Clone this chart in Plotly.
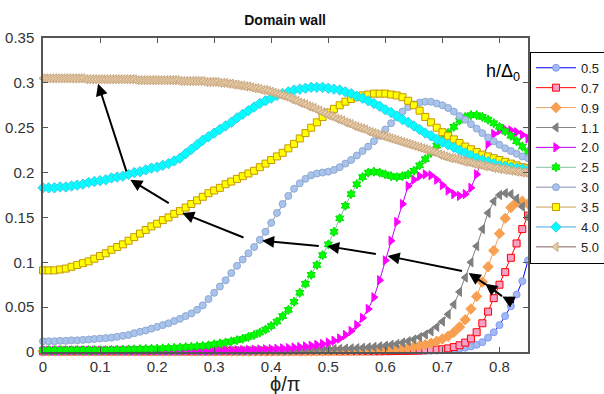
import plotly.graph_objects as go

# x grids (phi/pi)
phi = [round(i * 0.01, 2) for i in range(86)]
phi_fine = [round(i * 0.005, 3) for i in range(171)]

labels = ["0.5", "0.7", "0.9", "1.1", "2.0", "2.5", "3.0", "3.5", "4.0", "5.0"]

h05 = ([0.0005] * 50 +
       [0.0005, 0.0005, 0.0005, 0.0005, 0.0005, 0.0006, 0.0006, 0.0006, 0.0007, 0.0007,
        0.0008, 0.0008, 0.0009, 0.001, 0.001, 0.0011, 0.0012, 0.0013, 0.0014, 0.0016,
        0.0018, 0.0022, 0.0028, 0.0036, 0.0048, 0.0062, 0.008, 0.011, 0.016, 0.022,
        0.030, 0.040, 0.051, 0.064, 0.079, 0.102])

h07 = ([0.0008] * 60 +
       [0.0009, 0.001, 0.0011, 0.0012, 0.0013, 0.0015, 0.0017, 0.002, 0.0023, 0.0026,
        0.003, 0.004, 0.0055, 0.0075, 0.0105, 0.015, 0.022, 0.032, 0.045, 0.06,
        0.075, 0.089, 0.105, 0.121, 0.137, 0.152])

h09 = ([0.001] * 50 +
       [0.0012, 0.0013, 0.0014, 0.0015, 0.0016, 0.0018, 0.002, 0.0022, 0.0025, 0.0028,
        0.0031, 0.0035, 0.004, 0.0045, 0.0052, 0.006, 0.007, 0.0082, 0.0098, 0.012,
        0.0145, 0.0175, 0.022, 0.028, 0.036, 0.048, 0.062, 0.078, 0.095, 0.113,
        0.132, 0.149, 0.161, 0.167, 0.168, 0.165])

h11 = ([0.0012] * 40 +
       [0.0013, 0.0014, 0.0015, 0.0016, 0.0017, 0.0019, 0.0021, 0.0023, 0.0025, 0.0028,
        0.003, 0.0032, 0.0034, 0.0037, 0.004, 0.0043, 0.0047, 0.0052, 0.0057, 0.0063,
        0.007, 0.008, 0.009, 0.0105, 0.012, 0.014, 0.0165, 0.0195, 0.023, 0.028,
        0.034, 0.042, 0.053, 0.067, 0.083, 0.1, 0.118, 0.137, 0.155, 0.168,
        0.175, 0.177, 0.176, 0.171, 0.162, 0.15])

h20 = ([0.0015] * 30 +
       [0.0016, 0.0017, 0.0018, 0.0019, 0.002, 0.0022, 0.0024, 0.0026, 0.0028, 0.003,
        0.0033, 0.0036, 0.004, 0.0044, 0.0049, 0.0055, 0.0062, 0.007, 0.0079, 0.009,
        0.0105, 0.0125, 0.015, 0.019, 0.0235, 0.03, 0.038, 0.048, 0.061, 0.08,
        0.102, 0.124, 0.145, 0.165, 0.185, 0.192, 0.196, 0.198, 0.197, 0.192,
        0.186, 0.18, 0.176, 0.174, 0.176, 0.183, 0.198, 0.215, 0.232, 0.243,
        0.247, 0.248, 0.247, 0.245, 0.242, 0.238])

h25 = [0.002, 0.002, 0.002, 0.002, 0.002, 0.002, 0.002, 0.002, 0.002, 0.002,
       0.002, 0.002, 0.0022, 0.0024, 0.0026, 0.0028, 0.003, 0.0032, 0.0034, 0.0036,
       0.0038, 0.004, 0.0043, 0.0046, 0.005, 0.0054, 0.0058, 0.0063, 0.0068, 0.0074,
       0.0085, 0.0095, 0.0106, 0.0118, 0.0132, 0.0148, 0.0168, 0.019, 0.0217, 0.025,
       0.029, 0.034, 0.04, 0.047, 0.056, 0.066, 0.076, 0.086, 0.097, 0.108,
       0.12, 0.134, 0.149, 0.163, 0.176, 0.187, 0.195, 0.2, 0.201, 0.2,
       0.198, 0.196, 0.195, 0.196, 0.198, 0.202, 0.208, 0.215, 0.222, 0.23,
       0.237, 0.244, 0.251, 0.258, 0.262, 0.264, 0.264, 0.262, 0.259, 0.255,
       0.251, 0.246, 0.241, 0.235, 0.229, 0.223]

h30 = [0.012, 0.012, 0.012, 0.0125, 0.0125, 0.013, 0.013, 0.0135, 0.014, 0.0145,
       0.015, 0.0155, 0.016, 0.017, 0.018, 0.019, 0.021, 0.0225, 0.024, 0.026,
       0.028, 0.030, 0.032, 0.0345, 0.037, 0.040, 0.043, 0.047, 0.052, 0.059,
       0.066, 0.073, 0.080, 0.088, 0.096, 0.103, 0.110, 0.117, 0.125, 0.134,
       0.144, 0.155, 0.165, 0.174, 0.182, 0.188, 0.193, 0.197, 0.199, 0.200,
       0.201, 0.203, 0.206, 0.210, 0.214, 0.219, 0.224, 0.229, 0.235, 0.241,
       0.248, 0.255, 0.262, 0.268, 0.273, 0.276, 0.278, 0.279, 0.279, 0.277,
       0.275, 0.272, 0.268, 0.263, 0.259, 0.254, 0.249, 0.244, 0.239, 0.235,
       0.231, 0.227, 0.224, 0.221, 0.218, 0.216]

h35 = [0.091, 0.091, 0.091, 0.092, 0.093, 0.095, 0.097, 0.099, 0.101, 0.104,
       0.107, 0.110, 0.114, 0.117, 0.120, 0.124, 0.128, 0.132, 0.136, 0.140,
       0.143, 0.147, 0.150, 0.154, 0.157, 0.161, 0.165, 0.169, 0.173, 0.177,
       0.180, 0.183, 0.187, 0.190, 0.193, 0.196, 0.199, 0.202, 0.206, 0.210,
       0.214, 0.218, 0.222, 0.227, 0.232, 0.238, 0.244, 0.250, 0.256, 0.262,
       0.267, 0.271, 0.275, 0.279, 0.282, 0.284, 0.286, 0.287, 0.288, 0.288,
       0.288, 0.287, 0.286, 0.284, 0.280, 0.275, 0.269, 0.262, 0.256, 0.250,
       0.245, 0.241, 0.237, 0.233, 0.229, 0.226, 0.223, 0.220, 0.218, 0.216,
       0.214, 0.212, 0.210, 0.208, 0.206, 0.205]

h40 = [0.183, 0.183, 0.183, 0.184, 0.184, 0.185, 0.186, 0.187, 0.189, 0.190,
       0.191, 0.192, 0.194, 0.195, 0.196, 0.198, 0.200, 0.201, 0.203, 0.205,
       0.206, 0.208, 0.210, 0.213, 0.216, 0.221, 0.226, 0.231, 0.236, 0.240,
       0.244, 0.248, 0.252, 0.256, 0.261, 0.265, 0.269, 0.273, 0.277, 0.280,
       0.283, 0.286, 0.288, 0.290, 0.292, 0.293, 0.294, 0.295, 0.295, 0.295,
       0.294, 0.293, 0.292, 0.290, 0.288, 0.285, 0.283, 0.280, 0.277, 0.274,
       0.270, 0.267, 0.263, 0.259, 0.256, 0.252, 0.248, 0.244, 0.241, 0.237,
       0.234, 0.231, 0.228, 0.225, 0.222, 0.219, 0.216, 0.214, 0.212, 0.210,
       0.208, 0.207, 0.206, 0.205, 0.204, 0.203]

h50 = [0.305, 0.305, 0.305, 0.305, 0.305, 0.305, 0.305, 0.305, 0.305, 0.305,
       0.305, 0.305, 0.305, 0.305, 0.305, 0.304, 0.304, 0.304, 0.304, 0.304, 0.304,
       0.304, 0.304, 0.304, 0.304, 0.304, 0.304, 0.304, 0.304, 0.304, 0.304,
       0.304, 0.304, 0.303, 0.303, 0.303, 0.303, 0.303, 0.303, 0.303, 0.303,
       0.303, 0.303, 0.303, 0.303, 0.303, 0.303, 0.303, 0.302, 0.302, 0.302,
       0.302, 0.302, 0.302, 0.302, 0.302, 0.302, 0.301, 0.301, 0.301, 0.301,
       0.301, 0.300, 0.300, 0.300, 0.299, 0.299, 0.298, 0.298, 0.297, 0.297,
       0.296, 0.296, 0.295, 0.294, 0.294, 0.293, 0.292, 0.292, 0.291, 0.290,
       0.289, 0.288, 0.287, 0.286, 0.285, 0.284, 0.282, 0.281, 0.280, 0.278,
       0.277, 0.276, 0.274, 0.273, 0.272, 0.270, 0.269, 0.267, 0.266, 0.264,
       0.263, 0.262, 0.260, 0.259, 0.258, 0.256, 0.255, 0.254, 0.252, 0.251,
       0.250, 0.249, 0.248, 0.246, 0.245, 0.244, 0.243, 0.242, 0.241, 0.240,
       0.239, 0.238, 0.237, 0.236, 0.235, 0.234, 0.233, 0.232, 0.231, 0.230,
       0.229, 0.228, 0.227, 0.226, 0.225, 0.224, 0.223, 0.222, 0.220, 0.219,
       0.218, 0.217, 0.216, 0.216, 0.215, 0.214, 0.213, 0.212, 0.212, 0.211,
       0.210, 0.209, 0.209, 0.208, 0.207, 0.207, 0.206, 0.205, 0.205, 0.204,
       0.204, 0.203, 0.203, 0.202, 0.202, 0.201, 0.201, 0.200, 0.200, 0.199]

series = [
    (phi, h05, "#0000ff", "circle", 7, "#a4b8f4", "#7f9cf0"),
    (phi, h07, "#ff0000", "square", 7, "#f6a0c8", "#ff0000"),
    (phi, h09, "#f0a060", "diamond", 8, "#f8a050", "#f8a050"),
    (phi, h11, "#808080", "triangle-left", 8, "#7f7f7f", "#7f7f7f"),
    (phi, h20, "#c000ff", "triangle-right", 8, "#ff00ff", "#ff00ff"),
    (phi, h25, "#80c0a0", "hexagram", 7, "#00ff00", "#00e000"),
    (phi, h30, "#8090b0", "circle", 7, "#a8c4ec", "#90a8d0"),
    (phi, h35, "#c8a050", "square", 7, "#ffff00", "#c89600"),
    (phi, h40, "#40a8e0", "diamond", 8, "#00ffff", "#40c8e8"),
    (phi_fine, h50, "#806060", "triangle-left", 8, "#e8cca8", "#c8a880"),
]

fig = go.Figure()
for lab, (xs, ys, lc, sym, sz, fc, mc) in zip(labels, series):
    fig.add_trace(go.Scatter(
        x=xs, y=ys, name=lab, mode="lines+markers",
        line=dict(color=lc, width=1),
        marker=dict(symbol=sym, size=sz, color=fc, line=dict(color=mc, width=1)),
        cliponaxis=False,
    ))

# arrows: (head_x, head_y, tail_x, tail_y)
arrows = [
    (0.0965, 0.299, 0.147, 0.1996),
    (0.153, 0.192, 0.223, 0.165),
    (0.244, 0.155, 0.354, 0.127),
    (0.384, 0.124, 0.486, 0.118),
    (0.498, 0.118, 0.586, 0.109),
    (0.604, 0.107, 0.737, 0.090),
    (0.746, 0.088, 0.779, 0.074),
    (0.775, 0.076, 0.807, 0.061),
    (0.805, 0.062, 0.828, 0.054),
]
for hx, hy, tx, ty in arrows:
    fig.add_annotation(x=hx, y=hy, ax=tx, ay=ty, xref="x", yref="y",
                       axref="x", ayref="y", text="", showarrow=True,
                       arrowhead=2, arrowsize=1.2, arrowwidth=2,
                       arrowcolor="black", standoff=0)

fig.add_annotation(x=0.988, y=0.891, xref="paper", yref="paper",
                   text="h/Δ<sub>0</sub>", showarrow=False,
                   xanchor="right", yanchor="middle",
                   font=dict(size=18, color="black", family="Arial"))
fig.add_annotation(x=0.5, y=-0.102, xref="paper", yref="paper",
                   text="ϕ/π", showarrow=False, yanchor="middle",
                   font=dict(size=20, color="#222", family="Arial"))

xt = [0, 0.1, 0.2, 0.3, 0.4, 0.5, 0.6, 0.7, 0.8]
xt_text = ["0", "0.1", "0.2", "0.3", "0.4", "0.5", "0.6", "0.7", "0.8"]
yt = [0, 0.05, 0.1, 0.15, 0.2, 0.25, 0.3, 0.35]
yt_text = ["0", "0.05", "0.1", "0.15", "0.2", "0.25", "0.3", "0.35"]

fig.update_layout(
    width=604, height=394,
    margin=dict(l=43, r=76, t=38, b=42, autoexpand=False),
    paper_bgcolor="white", plot_bgcolor="white",
    font=dict(family="Arial", color="#333"),
    title=dict(text="<b>Domain wall</b>", x=0.472, xanchor="center",
               y=0.949, yanchor="middle", font=dict(size=14, color="#111")),
    showlegend=True,
    legend=dict(x=1.004, y=0.956, xanchor="left", yanchor="top",
                bordercolor="black", borderwidth=1, bgcolor="white",
                itemwidth=40,
                font=dict(size=13, color="#222"), tracegroupgap=0),
    xaxis=dict(range=[0, 0.85], tickvals=xt, ticktext=xt_text,
               ticks="inside", ticklen=5, tickcolor="#555", mirror="ticks",
               showline=True, linecolor="#555", linewidth=1.5,
               showgrid=False, zeroline=False, tickfont=dict(size=15, color="#333")),
    yaxis=dict(range=[0, 0.35], tickvals=yt, ticktext=yt_text,
               ticks="inside", ticklen=5, tickcolor="#555", mirror="ticks",
               showline=True, linecolor="#555", linewidth=1.5,
               ticklabelstandoff=4,
               showgrid=False, zeroline=False, tickfont=dict(size=15, color="#333")),
)

fig.write_html("out.html", config={"displayModeBar": False},
               post_script="document.body.style.margin='0';document.body.style.padding='0';")
